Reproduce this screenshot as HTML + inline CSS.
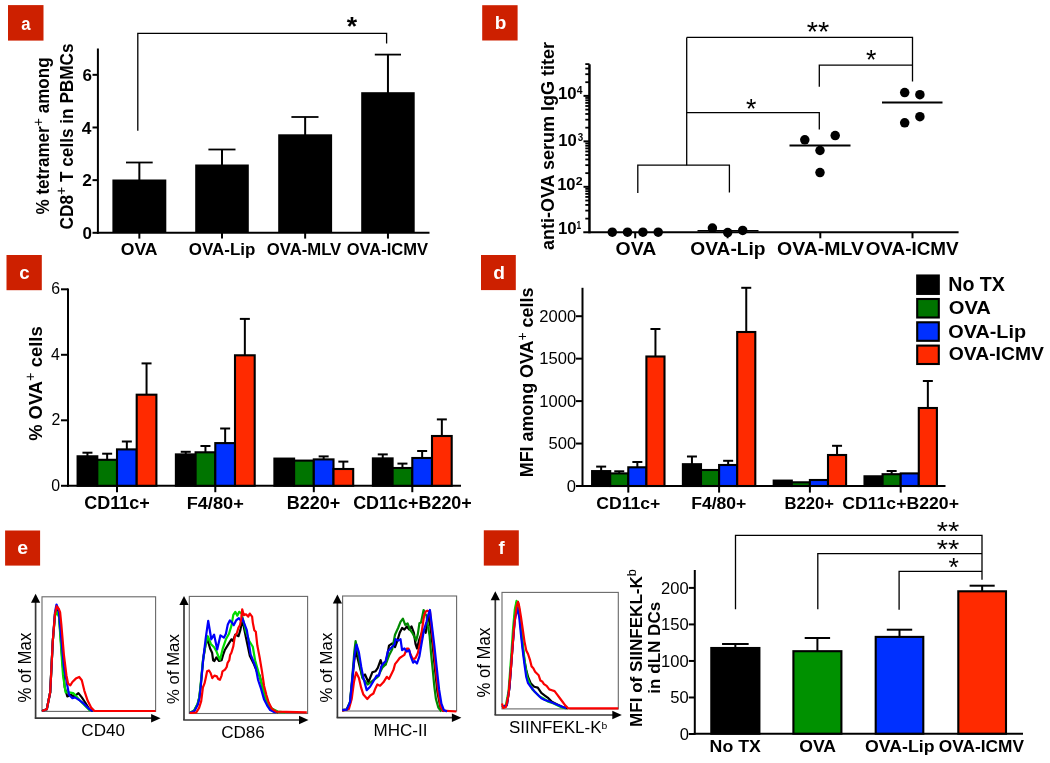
<!DOCTYPE html>
<html><head><meta charset="utf-8"><title>Figure</title>
<style>
html,body{margin:0;padding:0;background:#fff;width:1050px;height:763px;overflow:hidden}
svg{display:block;will-change:transform;font-family:"Liberation Sans",sans-serif}
</style></head><body>
<svg width="1050" height="763" viewBox="0 0 1050 763">
<rect width="1050" height="763" fill="#fff"/>
<rect x="8" y="5.1" width="35.5" height="35.5" fill="#cd2000"/>
<rect x="482.2" y="5.2" width="35.4" height="35.3" fill="#cd2000"/>
<rect x="6.5" y="255" width="35.3" height="35.2" fill="#cd2000"/>
<rect x="481" y="255" width="34.8" height="35.1" fill="#cd2000"/>
<rect x="5.1" y="530.5" width="35" height="35.1" fill="#cd2000"/>
<rect x="483.8" y="530.3" width="35" height="35.3" fill="#cd2000"/>
<line x1="97.9" y1="48.5" x2="97.9" y2="233.8" stroke="#000" stroke-width="2" stroke-linecap="butt"/>
<line x1="96.9" y1="232.8" x2="429.5" y2="232.8" stroke="#000" stroke-width="2" stroke-linecap="butt"/>
<line x1="92.5" y1="232.8" x2="98" y2="232.8" stroke="#000" stroke-width="2" stroke-linecap="butt"/>
<line x1="92.5" y1="180.14" x2="98" y2="180.14" stroke="#000" stroke-width="2" stroke-linecap="butt"/>
<line x1="92.5" y1="127.48" x2="98" y2="127.48" stroke="#000" stroke-width="2" stroke-linecap="butt"/>
<line x1="92.5" y1="74.82" x2="98" y2="74.82" stroke="#000" stroke-width="2" stroke-linecap="butt"/>
<line x1="139.35" y1="180.5" x2="139.35" y2="162.5" stroke="#000" stroke-width="2" stroke-linecap="butt"/>
<line x1="126" y1="162.5" x2="152.7" y2="162.5" stroke="#000" stroke-width="1.8" stroke-linecap="butt"/>
<rect x="112.4" y="179.5" width="53.9" height="53.3" fill="#000"/>
<line x1="139.35" y1="232.8" x2="139.35" y2="238.6" stroke="#000" stroke-width="2" stroke-linecap="butt"/>
<line x1="222" y1="165.5" x2="222" y2="149.5" stroke="#000" stroke-width="2" stroke-linecap="butt"/>
<line x1="208.4" y1="149.5" x2="235.5" y2="149.5" stroke="#000" stroke-width="1.8" stroke-linecap="butt"/>
<rect x="195.2" y="164.5" width="53.6" height="68.3" fill="#000"/>
<line x1="222" y1="232.8" x2="222" y2="238.6" stroke="#000" stroke-width="2" stroke-linecap="butt"/>
<line x1="305.15" y1="135.3" x2="305.15" y2="117" stroke="#000" stroke-width="2" stroke-linecap="butt"/>
<line x1="291.4" y1="117" x2="318.5" y2="117" stroke="#000" stroke-width="1.8" stroke-linecap="butt"/>
<rect x="278.2" y="134.3" width="53.9" height="98.5" fill="#000"/>
<line x1="305.15" y1="232.8" x2="305.15" y2="238.6" stroke="#000" stroke-width="2" stroke-linecap="butt"/>
<line x1="387.95" y1="93.2" x2="387.95" y2="54.6" stroke="#000" stroke-width="2" stroke-linecap="butt"/>
<line x1="374.8" y1="54.6" x2="401" y2="54.6" stroke="#000" stroke-width="1.8" stroke-linecap="butt"/>
<rect x="361.2" y="92.2" width="53.5" height="140.6" fill="#000"/>
<line x1="387.95" y1="232.8" x2="387.95" y2="238.6" stroke="#000" stroke-width="2" stroke-linecap="butt"/>
<polyline points="137.8,130.8 137.8,33.4 386.6,33.4 386.6,43.6" fill="none" stroke="#000" stroke-width="1.3" stroke-linejoin="miter"/>
<line x1="589.45" y1="64.3" x2="589.45" y2="233.3" stroke="#000" stroke-width="2.5" stroke-linecap="butt"/>
<line x1="583.3" y1="232.3" x2="958.6" y2="232.3" stroke="#000" stroke-width="2" stroke-linecap="butt"/>
<line x1="583.5" y1="186.83" x2="589.5" y2="186.83" stroke="#000" stroke-width="2" stroke-linecap="butt"/>
<line x1="583.5" y1="141.36" x2="589.5" y2="141.36" stroke="#000" stroke-width="2" stroke-linecap="butt"/>
<line x1="583.5" y1="95.89" x2="589.5" y2="95.89" stroke="#000" stroke-width="2" stroke-linecap="butt"/>
<line x1="585.3" y1="218.61" x2="589.5" y2="218.61" stroke="#000" stroke-width="1.8" stroke-linecap="butt"/>
<line x1="585.3" y1="210.61" x2="589.5" y2="210.61" stroke="#000" stroke-width="1.8" stroke-linecap="butt"/>
<line x1="585.3" y1="204.92" x2="589.5" y2="204.92" stroke="#000" stroke-width="1.8" stroke-linecap="butt"/>
<line x1="585.3" y1="200.52" x2="589.5" y2="200.52" stroke="#000" stroke-width="1.8" stroke-linecap="butt"/>
<line x1="585.3" y1="196.92" x2="589.5" y2="196.92" stroke="#000" stroke-width="1.8" stroke-linecap="butt"/>
<line x1="585.3" y1="193.87" x2="589.5" y2="193.87" stroke="#000" stroke-width="1.8" stroke-linecap="butt"/>
<line x1="585.3" y1="191.24" x2="589.5" y2="191.24" stroke="#000" stroke-width="1.8" stroke-linecap="butt"/>
<line x1="585.3" y1="188.91" x2="589.5" y2="188.91" stroke="#000" stroke-width="1.8" stroke-linecap="butt"/>
<line x1="585.3" y1="173.14" x2="589.5" y2="173.14" stroke="#000" stroke-width="1.8" stroke-linecap="butt"/>
<line x1="585.3" y1="165.14" x2="589.5" y2="165.14" stroke="#000" stroke-width="1.8" stroke-linecap="butt"/>
<line x1="585.3" y1="159.45" x2="589.5" y2="159.45" stroke="#000" stroke-width="1.8" stroke-linecap="butt"/>
<line x1="585.3" y1="155.05" x2="589.5" y2="155.05" stroke="#000" stroke-width="1.8" stroke-linecap="butt"/>
<line x1="585.3" y1="151.45" x2="589.5" y2="151.45" stroke="#000" stroke-width="1.8" stroke-linecap="butt"/>
<line x1="585.3" y1="148.4" x2="589.5" y2="148.4" stroke="#000" stroke-width="1.8" stroke-linecap="butt"/>
<line x1="585.3" y1="145.77" x2="589.5" y2="145.77" stroke="#000" stroke-width="1.8" stroke-linecap="butt"/>
<line x1="585.3" y1="143.44" x2="589.5" y2="143.44" stroke="#000" stroke-width="1.8" stroke-linecap="butt"/>
<line x1="585.3" y1="127.67" x2="589.5" y2="127.67" stroke="#000" stroke-width="1.8" stroke-linecap="butt"/>
<line x1="585.3" y1="119.67" x2="589.5" y2="119.67" stroke="#000" stroke-width="1.8" stroke-linecap="butt"/>
<line x1="585.3" y1="113.98" x2="589.5" y2="113.98" stroke="#000" stroke-width="1.8" stroke-linecap="butt"/>
<line x1="585.3" y1="109.58" x2="589.5" y2="109.58" stroke="#000" stroke-width="1.8" stroke-linecap="butt"/>
<line x1="585.3" y1="105.98" x2="589.5" y2="105.98" stroke="#000" stroke-width="1.8" stroke-linecap="butt"/>
<line x1="585.3" y1="102.93" x2="589.5" y2="102.93" stroke="#000" stroke-width="1.8" stroke-linecap="butt"/>
<line x1="585.3" y1="100.3" x2="589.5" y2="100.3" stroke="#000" stroke-width="1.8" stroke-linecap="butt"/>
<line x1="585.3" y1="97.97" x2="589.5" y2="97.97" stroke="#000" stroke-width="1.8" stroke-linecap="butt"/>
<line x1="585.3" y1="82.2" x2="589.5" y2="82.2" stroke="#000" stroke-width="1.8" stroke-linecap="butt"/>
<line x1="585.3" y1="74.2" x2="589.5" y2="74.2" stroke="#000" stroke-width="1.8" stroke-linecap="butt"/>
<line x1="585.3" y1="68.51" x2="589.5" y2="68.51" stroke="#000" stroke-width="1.8" stroke-linecap="butt"/>
<line x1="585.3" y1="64.11" x2="589.5" y2="64.11" stroke="#000" stroke-width="1.8" stroke-linecap="butt"/>
<line x1="635.2" y1="232.3" x2="635.2" y2="238.3" stroke="#000" stroke-width="2" stroke-linecap="butt"/>
<line x1="727.6" y1="232.3" x2="727.6" y2="238.3" stroke="#000" stroke-width="2" stroke-linecap="butt"/>
<line x1="820.3" y1="232.3" x2="820.3" y2="238.3" stroke="#000" stroke-width="2" stroke-linecap="butt"/>
<line x1="912.5" y1="232.3" x2="912.5" y2="238.3" stroke="#000" stroke-width="2" stroke-linecap="butt"/>
<line x1="697.5" y1="230.7" x2="758.5" y2="230.7" stroke="#000" stroke-width="1.5" stroke-linecap="butt"/>
<line x1="789.5" y1="145.5" x2="850.5" y2="145.5" stroke="#000" stroke-width="2" stroke-linecap="butt"/>
<line x1="882" y1="102.5" x2="942.5" y2="102.5" stroke="#000" stroke-width="2" stroke-linecap="butt"/>
<circle cx="612.3" cy="232.2" r="4.75" fill="#000"/>
<circle cx="627.5" cy="232.2" r="4.75" fill="#000"/>
<circle cx="642.9" cy="232.2" r="4.75" fill="#000"/>
<circle cx="658.2" cy="232.2" r="4.75" fill="#000"/>
<circle cx="712.4" cy="228.1" r="4.75" fill="#000"/>
<circle cx="727.7" cy="232.6" r="4.75" fill="#000"/>
<circle cx="742.7" cy="230.4" r="4.75" fill="#000"/>
<circle cx="804.8" cy="139.8" r="4.75" fill="#000"/>
<circle cx="835.2" cy="135.6" r="4.75" fill="#000"/>
<circle cx="820" cy="150.5" r="4.75" fill="#000"/>
<circle cx="820" cy="172.6" r="4.75" fill="#000"/>
<circle cx="904.7" cy="92.6" r="4.75" fill="#000"/>
<circle cx="919.9" cy="94.7" r="4.75" fill="#000"/>
<circle cx="904.7" cy="122.8" r="4.75" fill="#000"/>
<circle cx="919.9" cy="116.7" r="4.75" fill="#000"/>
<polyline points="637.8,193 637.8,165.2 729.4,165.2 729.4,192.4" fill="none" stroke="#000" stroke-width="1.3" stroke-linejoin="miter"/>
<polyline points="686.7,165.2 686.7,37.4" fill="none" stroke="#000" stroke-width="1.3" stroke-linejoin="miter"/>
<polyline points="686.7,112.7 819.3,112.7 819.3,129.5" fill="none" stroke="#000" stroke-width="1.3" stroke-linejoin="miter"/>
<polyline points="686.7,37.4 912.5,37.4 912.5,81.5" fill="none" stroke="#000" stroke-width="1.3" stroke-linejoin="miter"/>
<polyline points="819.3,86.8 819.3,65.2 912.5,65.2" fill="none" stroke="#000" stroke-width="1.3" stroke-linejoin="miter"/>
<line x1="68" y1="288.6" x2="68" y2="486.8" stroke="#000" stroke-width="2" stroke-linecap="butt"/>
<line x1="67" y1="485.8" x2="461" y2="485.8" stroke="#000" stroke-width="2" stroke-linecap="butt"/>
<line x1="61" y1="485.8" x2="68" y2="485.8" stroke="#000" stroke-width="2" stroke-linecap="butt"/>
<line x1="61" y1="420.3" x2="68" y2="420.3" stroke="#000" stroke-width="2" stroke-linecap="butt"/>
<line x1="61" y1="354.8" x2="68" y2="354.8" stroke="#000" stroke-width="2" stroke-linecap="butt"/>
<line x1="61" y1="289.3" x2="68" y2="289.3" stroke="#000" stroke-width="2" stroke-linecap="butt"/>
<line x1="117" y1="485.8" x2="117" y2="492.2" stroke="#000" stroke-width="2" stroke-linecap="butt"/>
<line x1="215.3" y1="485.8" x2="215.3" y2="492.2" stroke="#000" stroke-width="2" stroke-linecap="butt"/>
<line x1="313.8" y1="485.8" x2="313.8" y2="492.2" stroke="#000" stroke-width="2" stroke-linecap="butt"/>
<line x1="412.3" y1="485.8" x2="412.3" y2="492.2" stroke="#000" stroke-width="2" stroke-linecap="butt"/>
<line x1="87.45" y1="456.3" x2="87.45" y2="452.7" stroke="#000" stroke-width="2" stroke-linecap="butt"/>
<line x1="82.45" y1="452.7" x2="92.45" y2="452.7" stroke="#000" stroke-width="2" stroke-linecap="butt"/>
<line x1="107.15" y1="459.8" x2="107.15" y2="453.7" stroke="#000" stroke-width="2" stroke-linecap="butt"/>
<line x1="102.15" y1="453.7" x2="112.15" y2="453.7" stroke="#000" stroke-width="2" stroke-linecap="butt"/>
<line x1="126.85" y1="449.4" x2="126.85" y2="441.5" stroke="#000" stroke-width="2" stroke-linecap="butt"/>
<line x1="121.85" y1="441.5" x2="131.85" y2="441.5" stroke="#000" stroke-width="2" stroke-linecap="butt"/>
<line x1="146.55" y1="394.7" x2="146.55" y2="363.4" stroke="#000" stroke-width="2" stroke-linecap="butt"/>
<line x1="141.55" y1="363.4" x2="151.55" y2="363.4" stroke="#000" stroke-width="2" stroke-linecap="butt"/>
<rect x="77.6" y="456.3" width="19.7" height="29.5" fill="#000" stroke="#000" stroke-width="2.1"/>
<rect x="97.3" y="459.8" width="19.7" height="26" fill="#007400" stroke="#000" stroke-width="2.1"/>
<rect x="117" y="449.4" width="19.7" height="36.4" fill="#0030ff" stroke="#000" stroke-width="2.1"/>
<rect x="136.7" y="394.7" width="19.7" height="91.1" fill="#ff2a00" stroke="#000" stroke-width="2.1"/>
<line x1="185.75" y1="454.4" x2="185.75" y2="451.8" stroke="#000" stroke-width="2" stroke-linecap="butt"/>
<line x1="180.75" y1="451.8" x2="190.75" y2="451.8" stroke="#000" stroke-width="2" stroke-linecap="butt"/>
<line x1="205.45" y1="452.3" x2="205.45" y2="446" stroke="#000" stroke-width="2" stroke-linecap="butt"/>
<line x1="200.45" y1="446" x2="210.45" y2="446" stroke="#000" stroke-width="2" stroke-linecap="butt"/>
<line x1="225.15" y1="443.1" x2="225.15" y2="428.5" stroke="#000" stroke-width="2" stroke-linecap="butt"/>
<line x1="220.15" y1="428.5" x2="230.15" y2="428.5" stroke="#000" stroke-width="2" stroke-linecap="butt"/>
<line x1="244.85" y1="355.3" x2="244.85" y2="318.9" stroke="#000" stroke-width="2" stroke-linecap="butt"/>
<line x1="239.85" y1="318.9" x2="249.85" y2="318.9" stroke="#000" stroke-width="2" stroke-linecap="butt"/>
<rect x="175.9" y="454.4" width="19.7" height="31.4" fill="#000" stroke="#000" stroke-width="2.1"/>
<rect x="195.6" y="452.3" width="19.7" height="33.5" fill="#007400" stroke="#000" stroke-width="2.1"/>
<rect x="215.3" y="443.1" width="19.7" height="42.7" fill="#0030ff" stroke="#000" stroke-width="2.1"/>
<rect x="235" y="355.3" width="19.7" height="130.5" fill="#ff2a00" stroke="#000" stroke-width="2.1"/>
<line x1="323.65" y1="459.4" x2="323.65" y2="456.4" stroke="#000" stroke-width="2" stroke-linecap="butt"/>
<line x1="318.65" y1="456.4" x2="328.65" y2="456.4" stroke="#000" stroke-width="2" stroke-linecap="butt"/>
<line x1="343.35" y1="469" x2="343.35" y2="461.6" stroke="#000" stroke-width="2" stroke-linecap="butt"/>
<line x1="338.35" y1="461.6" x2="348.35" y2="461.6" stroke="#000" stroke-width="2" stroke-linecap="butt"/>
<rect x="274.4" y="458.6" width="19.7" height="27.2" fill="#000" stroke="#000" stroke-width="2.1"/>
<rect x="294.1" y="460.6" width="19.7" height="25.2" fill="#007400" stroke="#000" stroke-width="2.1"/>
<rect x="313.8" y="459.4" width="19.7" height="26.4" fill="#0030ff" stroke="#000" stroke-width="2.1"/>
<rect x="333.5" y="469" width="19.7" height="16.8" fill="#ff2a00" stroke="#000" stroke-width="2.1"/>
<line x1="382.75" y1="458.4" x2="382.75" y2="454.4" stroke="#000" stroke-width="2" stroke-linecap="butt"/>
<line x1="377.75" y1="454.4" x2="387.75" y2="454.4" stroke="#000" stroke-width="2" stroke-linecap="butt"/>
<line x1="402.45" y1="468" x2="402.45" y2="463.6" stroke="#000" stroke-width="2" stroke-linecap="butt"/>
<line x1="397.45" y1="463.6" x2="407.45" y2="463.6" stroke="#000" stroke-width="2" stroke-linecap="butt"/>
<line x1="422.15" y1="458" x2="422.15" y2="451" stroke="#000" stroke-width="2" stroke-linecap="butt"/>
<line x1="417.15" y1="451" x2="427.15" y2="451" stroke="#000" stroke-width="2" stroke-linecap="butt"/>
<line x1="441.85" y1="436" x2="441.85" y2="419.4" stroke="#000" stroke-width="2" stroke-linecap="butt"/>
<line x1="436.85" y1="419.4" x2="446.85" y2="419.4" stroke="#000" stroke-width="2" stroke-linecap="butt"/>
<rect x="372.9" y="458.4" width="19.7" height="27.4" fill="#000" stroke="#000" stroke-width="2.1"/>
<rect x="392.6" y="468" width="19.7" height="17.8" fill="#007400" stroke="#000" stroke-width="2.1"/>
<rect x="412.3" y="458" width="19.7" height="27.8" fill="#0030ff" stroke="#000" stroke-width="2.1"/>
<rect x="432" y="436" width="19.7" height="49.8" fill="#ff2a00" stroke="#000" stroke-width="2.1"/>
<line x1="582.5" y1="287.8" x2="582.5" y2="486.7" stroke="#000" stroke-width="2" stroke-linecap="butt"/>
<line x1="581.5" y1="486" x2="945.5" y2="486" stroke="#000" stroke-width="2" stroke-linecap="butt"/>
<line x1="576" y1="486" x2="582.5" y2="486" stroke="#000" stroke-width="2" stroke-linecap="butt"/>
<line x1="576" y1="443.55" x2="582.5" y2="443.55" stroke="#000" stroke-width="2" stroke-linecap="butt"/>
<line x1="576" y1="401.1" x2="582.5" y2="401.1" stroke="#000" stroke-width="2" stroke-linecap="butt"/>
<line x1="576" y1="358.65" x2="582.5" y2="358.65" stroke="#000" stroke-width="2" stroke-linecap="butt"/>
<line x1="576" y1="316.2" x2="582.5" y2="316.2" stroke="#000" stroke-width="2" stroke-linecap="butt"/>
<line x1="628.3" y1="486" x2="628.3" y2="492.6" stroke="#000" stroke-width="2" stroke-linecap="butt"/>
<line x1="719.1" y1="486" x2="719.1" y2="492.6" stroke="#000" stroke-width="2" stroke-linecap="butt"/>
<line x1="809.9" y1="486" x2="809.9" y2="492.6" stroke="#000" stroke-width="2" stroke-linecap="butt"/>
<line x1="900.7" y1="486" x2="900.7" y2="492.6" stroke="#000" stroke-width="2" stroke-linecap="butt"/>
<line x1="601.15" y1="471.1" x2="601.15" y2="466.6" stroke="#000" stroke-width="2" stroke-linecap="butt"/>
<line x1="596.15" y1="466.6" x2="606.15" y2="466.6" stroke="#000" stroke-width="2" stroke-linecap="butt"/>
<line x1="619.25" y1="473.4" x2="619.25" y2="471.3" stroke="#000" stroke-width="2" stroke-linecap="butt"/>
<line x1="614.25" y1="471.3" x2="624.25" y2="471.3" stroke="#000" stroke-width="2" stroke-linecap="butt"/>
<line x1="637.35" y1="467.3" x2="637.35" y2="462" stroke="#000" stroke-width="2" stroke-linecap="butt"/>
<line x1="632.35" y1="462" x2="642.35" y2="462" stroke="#000" stroke-width="2" stroke-linecap="butt"/>
<line x1="655.45" y1="356.5" x2="655.45" y2="329" stroke="#000" stroke-width="2" stroke-linecap="butt"/>
<line x1="650.45" y1="329" x2="660.45" y2="329" stroke="#000" stroke-width="2" stroke-linecap="butt"/>
<rect x="592.1" y="471.1" width="18.1" height="14.9" fill="#000" stroke="#000" stroke-width="2.1"/>
<rect x="610.2" y="473.4" width="18.1" height="12.6" fill="#007400" stroke="#000" stroke-width="2.1"/>
<rect x="628.3" y="467.3" width="18.1" height="18.7" fill="#0030ff" stroke="#000" stroke-width="2.1"/>
<rect x="646.4" y="356.5" width="18.1" height="129.5" fill="#ff2a00" stroke="#000" stroke-width="2.1"/>
<line x1="691.95" y1="464.2" x2="691.95" y2="456.5" stroke="#000" stroke-width="2" stroke-linecap="butt"/>
<line x1="686.95" y1="456.5" x2="696.95" y2="456.5" stroke="#000" stroke-width="2" stroke-linecap="butt"/>
<line x1="728.15" y1="465" x2="728.15" y2="460.8" stroke="#000" stroke-width="2" stroke-linecap="butt"/>
<line x1="723.15" y1="460.8" x2="733.15" y2="460.8" stroke="#000" stroke-width="2" stroke-linecap="butt"/>
<line x1="746.25" y1="332" x2="746.25" y2="287.8" stroke="#000" stroke-width="2" stroke-linecap="butt"/>
<line x1="741.25" y1="287.8" x2="751.25" y2="287.8" stroke="#000" stroke-width="2" stroke-linecap="butt"/>
<rect x="682.9" y="464.2" width="18.1" height="21.8" fill="#000" stroke="#000" stroke-width="2.1"/>
<rect x="701" y="470" width="18.1" height="16" fill="#007400" stroke="#000" stroke-width="2.1"/>
<rect x="719.1" y="465" width="18.1" height="21" fill="#0030ff" stroke="#000" stroke-width="2.1"/>
<rect x="737.2" y="332" width="18.1" height="154" fill="#ff2a00" stroke="#000" stroke-width="2.1"/>
<line x1="837.05" y1="455" x2="837.05" y2="445.8" stroke="#000" stroke-width="2" stroke-linecap="butt"/>
<line x1="832.05" y1="445.8" x2="842.05" y2="445.8" stroke="#000" stroke-width="2" stroke-linecap="butt"/>
<rect x="773.7" y="480.6" width="18.1" height="5.4" fill="#000" stroke="#000" stroke-width="2.1"/>
<rect x="791.8" y="482.3" width="18.1" height="3.7" fill="#007400" stroke="#000" stroke-width="2.1"/>
<rect x="809.9" y="480" width="18.1" height="6" fill="#0030ff" stroke="#000" stroke-width="2.1"/>
<rect x="828" y="455" width="18.1" height="31" fill="#ff2a00" stroke="#000" stroke-width="2.1"/>
<line x1="891.65" y1="474.2" x2="891.65" y2="471" stroke="#000" stroke-width="2" stroke-linecap="butt"/>
<line x1="886.65" y1="471" x2="896.65" y2="471" stroke="#000" stroke-width="2" stroke-linecap="butt"/>
<line x1="927.85" y1="408" x2="927.85" y2="381" stroke="#000" stroke-width="2" stroke-linecap="butt"/>
<line x1="922.85" y1="381" x2="932.85" y2="381" stroke="#000" stroke-width="2" stroke-linecap="butt"/>
<rect x="864.5" y="476.3" width="18.1" height="9.7" fill="#000" stroke="#000" stroke-width="2.1"/>
<rect x="882.6" y="474.2" width="18.1" height="11.8" fill="#007400" stroke="#000" stroke-width="2.1"/>
<rect x="900.7" y="473.4" width="18.1" height="12.6" fill="#0030ff" stroke="#000" stroke-width="2.1"/>
<rect x="918.8" y="408" width="18.1" height="78" fill="#ff2a00" stroke="#000" stroke-width="2.1"/>
<rect x="917.2" y="275.5" width="21.6" height="18.4" fill="#000" stroke="#000" stroke-width="2.1"/>
<rect x="917.2" y="299" width="21.6" height="18.5" fill="#007400" stroke="#000" stroke-width="2.1"/>
<rect x="917.2" y="322.3" width="21.6" height="18.5" fill="#0030ff" stroke="#000" stroke-width="2.1"/>
<rect x="917.2" y="345.6" width="21.6" height="18.4" fill="#ff2a00" stroke="#000" stroke-width="2.1"/>
<rect x="42" y="596.8" width="113.6" height="114.6" fill="none" stroke="#686868" stroke-width="1.1"/>
<polyline points="42,711 46.8,709.3 50.2,692.3 52.8,641 55,614 57,610.5 59,615 62.2,658.2 64.7,687.2 67.3,696.5 70.7,694.8 74.1,696.5 78.4,693.1 81.8,697.4 85.2,702.5 89.4,709.3 92.8,711" fill="none" stroke="#000" stroke-width="2.2" stroke-linejoin="round"/>
<polyline points="42,711 46.8,709.3 50.2,692.3 52.8,641 55,616 57,612 59,617 63,675.2 65.6,692.3 69,692.3 73.2,693.1 75.8,695.7 80.9,701.6 86,706.8 90.3,711" fill="none" stroke="#00dc00" stroke-width="2.2" stroke-linejoin="round"/>
<polyline points="42,711 46.8,709.3 50.2,692.3 52.8,641 55,612 56.5,604.5 58.7,610.5 63.9,666.7 66.4,680.3 69,694.8 72.4,698.2 74.9,697.4 79.2,700 84.3,704.2 89.4,709.3 92.8,711" fill="none" stroke="#0000fa" stroke-width="2.2" stroke-linejoin="round"/>
<polyline points="42,711 46.8,709.3 50.2,692.3 52.8,641 55,613.9 56.7,606.2 58.7,608.7 60.1,612.2 61.3,624 63.9,654.8 66.4,675.2 68.1,683.7 70.3,685.4 72.4,682 75.8,678.6 79.2,677 81.8,680.3 84.3,690.6 87.7,700.8 91.1,707.6 94.5,711 155.6,711" fill="none" stroke="#fa0000" stroke-width="2.2" stroke-linejoin="round"/>
<line x1="35.6" y1="718.6" x2="35.6" y2="599.7" stroke="#383838" stroke-width="1.7" stroke-linecap="butt"/>
<path d="M31 602.7 L35.6 593.7 L40.2 602.7 Z" fill="#000"/>
<line x1="34.8" y1="718.2" x2="154.6" y2="718.2" stroke="#383838" stroke-width="1.7" stroke-linecap="butt"/>
<path d="M151.1 714 L160.6 718.2 L151.1 722.4 Z" fill="#000"/>
<rect x="189.3" y="596.4" width="118.3" height="117.1" fill="none" stroke="#686868" stroke-width="1.1"/>
<polyline points="189.7,713 194.2,710.7 197.6,704.2 199.4,697.3 200.7,685.4 202,672 203.2,659 205.5,645 207.4,639.3 210.2,648.7 212.1,652.7 213.1,660.2 214.4,661 216.4,657.4 219.1,661 221.6,660.2 223.3,654.3 224.7,650.3 227.5,645.6 231.4,639.3 233,640.9 235.3,634.6 238.5,636.2 240.4,629.9 242.3,619.6 246,637.7 249.8,655.8 253.6,663.4 256.6,670.9 259.6,675.4 262.6,687.5 265.6,699.6 268.7,705.6 273.2,710.1 278,712.4" fill="none" stroke="#000" stroke-width="2.2" stroke-linejoin="round"/>
<polyline points="189.7,713 194,710.5 197.5,704 199.3,697 200.6,685 201.9,671 203,659.7 205.5,645 207.8,636.2 210.9,644 214.1,647.2 216.4,651.1 218.2,656 220,659.7 222.7,648.7 225.9,639.3 229,633.8 231.4,625.9 233.3,614.9 235.3,611.8 237.3,615.7 239.2,611.8 241.6,613.4 242.3,616.6 246,631.7 249.1,640.7 252.8,646.8 255.1,660.3 258.1,670.9 261.1,681.5 264.1,693.5 267.2,702.6 271.7,708.6 277.7,711.6 285,712.4" fill="none" stroke="#00dc00" stroke-width="2.2" stroke-linejoin="round"/>
<polyline points="189.7,713 194.4,710.9 197.8,704.5 199.5,697.7 200.8,685.8 202,672.1 203.3,658.5 205.8,637.7 208.2,620.8 211.3,639.3 214.1,634.6 217.2,649.5 220.4,635.4 223.9,637.7 225.9,633.8 227.8,624.4 229.8,620.4 232.2,622.8 233.7,625.2 236.1,620.4 238.9,618.1 241.2,621.2 242.3,618.1 244.5,624.1 246.8,630.2 248.3,639.2 250.6,654.3 253.6,661.8 255.8,667.9 258.1,680 261.1,689 264.1,699.6 267.2,705.6 270.2,710.1 273.2,711.6 276,712.4" fill="none" stroke="#0000fa" stroke-width="2.2" stroke-linejoin="round"/>
<polyline points="189.7,713 196.1,712.6 199.1,707.9 201.2,701.1 202.9,687.5 204.6,683.2 205.9,677.3 207.1,671.3 208.9,670.4 210.6,673 212.3,678.1 214.4,675.6 216.9,676.4 218.2,679 219.9,679.8 221.6,675.6 222.5,671.3 225,669.6 226.7,667 227.6,662.8 229.3,660.2 230.1,655.1 231.4,652.7 233.3,646.4 234.9,636.2 236.9,633 238.5,627.5 240,625.2 241.2,618.9 242.2,609.4 243.8,615.1 246,614.3 248.3,616.6 249.8,613.6 252.1,616.6 252.8,622.6 254.3,630.2 255.8,631.7 257.3,645.3 259.6,657.3 261.9,670.9 264.1,686 266.4,695 268.7,702.6 271.7,708.6 276.2,711.6 306.8,712.4" fill="none" stroke="#fa0000" stroke-width="2.2" stroke-linejoin="round"/>
<line x1="184" y1="720" x2="184" y2="601.9" stroke="#383838" stroke-width="1.7" stroke-linecap="butt"/>
<path d="M179.4 604.9 L184 595.9 L188.6 604.9 Z" fill="#000"/>
<line x1="183.2" y1="720" x2="302.5" y2="720" stroke="#383838" stroke-width="1.7" stroke-linecap="butt"/>
<path d="M299 715.8 L308.5 720 L299 724.2 Z" fill="#000"/>
<rect x="342.6" y="596" width="114" height="115" fill="none" stroke="#686868" stroke-width="1.1"/>
<polyline points="342.2,710.2 346.7,709.6 350,702.4 352.2,681 354.3,660 355.6,650 356.7,654.5 358.9,663.4 362.3,676.8 365,674.5 368.4,682.3 372.3,672.3 375.6,671.2 377.8,667.8 380.6,660.1 382.3,665.6 385.6,664.5 389,645.6 392.3,643.4 395,647 397.4,640.6 399.7,632.8 402.1,628 404.4,629.6 406.8,626.5 409.2,629.6 411.5,626.5 413.9,632.8 415.5,643.8 417,648.5 419.4,639.1 421.8,632.8 424.1,629.6 425.7,632.8 427.3,621.8 428.8,615.5 430.4,626.5 432.8,647 435.1,670.5 437.5,692.6 440.6,708.3 443.8,711.5" fill="none" stroke="#000" stroke-width="2.2" stroke-linejoin="round"/>
<polyline points="342.2,710.2 346.7,709.6 350,702 352.2,678 354.3,652 355.6,641.1 358.5,655 362.3,677.9 367.8,684.5 373.4,680.1 377.8,676.8 382.3,667.8 385.6,664.5 389,655.6 392.3,648.9 395,634.7 398.1,628 400.5,621.8 402.9,618.6 405.2,624.9 407.6,623.3 410,629.6 412.3,632.8 414.7,637.5 416.2,640.6 417.8,634.3 419.4,623.3 421,622.5 422.5,615.5 423.6,610 425.2,613.9 426.5,615.5 428,626.5 429.6,635.9 431.2,654.8 432.8,670.5 434.3,686.3 435.9,698.9 438.3,707.5 441.4,711.5" fill="none" stroke="#008a00" stroke-width="2.2" stroke-linejoin="round"/>
<polyline points="342.2,710.7 348.9,709 351.7,699 353.9,682.3 356.1,672.3 358.9,677.9 361.2,687.9 363.4,694.6 367.3,699 370.1,695.7 373.4,693.5 375.6,687.9 377.3,684.5 380.1,685.7 383.4,682.3 386.8,676.8 389,679 391.2,674.5 393.4,670.1 395,664.2 397.4,661.1 399.7,658 402.1,656.4 404.4,654.8 406.8,648.5 408.4,648.5 410.7,654.8 413.1,659.5 415.5,658 417.8,653.2 420.2,642.2 422.5,626.5 424.1,615.5 425.7,611.5 427.3,610.7 428.8,611.5 429.9,610.7 431.5,626.5 433.6,647 435.9,670.5 438.3,692.6 440.6,706.7 443,710.7 456.4,711.5" fill="none" stroke="#fa0000" stroke-width="2.2" stroke-linejoin="round"/>
<polyline points="342.2,710.2 346.7,709.6 350,702.4 352.2,680.1 354.5,655.6 356.5,644.5 358.9,652.3 361.2,666.7 363.4,677.9 366.7,690.1 370.1,686.8 373.4,681.2 376.7,675.6 379,675.6 381.2,666.7 383.4,663.4 385.6,661.2 387.9,651.2 391.2,647.8 394.5,644.5 395.5,639.1 398.1,640.6 400.5,639.1 402.1,650.1 404.4,648.5 406.8,651.7 409.2,650.1 410.7,656.4 413.1,662.7 414.7,661.1 417,663.5 419.4,656.4 421.8,642.2 424.1,629.6 426.5,621.8 428,615.5 429.9,610 432,626.5 434.3,645.4 436.7,667.4 439.1,689.4 441.4,703.6 443.8,709.9 447,711.5" fill="none" stroke="#0000fa" stroke-width="2.2" stroke-linejoin="round"/>
<line x1="337.4" y1="717.7" x2="337.4" y2="600.5" stroke="#383838" stroke-width="1.7" stroke-linecap="butt"/>
<path d="M332.8 603.5 L337.4 594.5 L342 603.5 Z" fill="#000"/>
<line x1="336.6" y1="717.7" x2="455.4" y2="717.7" stroke="#383838" stroke-width="1.7" stroke-linecap="butt"/>
<path d="M451.9 713.5 L461.4 717.7 L451.9 721.9 Z" fill="#000"/>
<rect x="502" y="592.4" width="116.3" height="116.5" fill="none" stroke="#686868" stroke-width="1.1"/>
<polyline points="502.03,707.08 506.81,705.31 509.46,687.62 512.12,652.23 514.77,616.85 516.54,602.69 517.95,601.81 519.19,609.77 520.96,629.23 522.73,646.92 524.5,661.08 526.27,669.93 528.04,677 530.69,683.2 534.23,686.73 537.77,687.62 541.31,692.93 544.85,695.58 548.39,698.23 551.92,701.77 557.23,704.43 562.54,707.08 567.85,708.32" fill="none" stroke="#000" stroke-width="2.2" stroke-linejoin="round"/>
<polyline points="502.03,707.08 505.92,705.31 508.58,691.16 511.23,655.77 513,629.23 514.77,609.77 516.54,600.92 518.31,604.46 520.08,616.85 521.85,634.54 523.62,652.23 525.39,666.39 527.15,677 529.81,684.08 532.46,689.39 536,692.93 539.54,696.46 543.08,698.23 548.39,701.77 553.69,703.54 560.77,707.08 566.08,708.32" fill="none" stroke="#00dc00" stroke-width="2.2" stroke-linejoin="round"/>
<polyline points="502.03,707.08 506.81,705.31 509.46,687.62 512.12,652.23 514.77,620.39 517.42,608 519.19,616.85 520.96,634.54 522.73,650.46 524.5,664.62 526.27,677 528.04,683.2 530.69,686.73 534.23,691.16 537.77,694.7 541.31,698.23 544.85,700 550.16,701.77 555.46,703.9 560.77,706.2 566.08,708.32" fill="none" stroke="#0000fa" stroke-width="2.2" stroke-linejoin="round"/>
<polyline points="502.03,703.54 503.27,707.97 505.92,707.08 508.58,694.7 511.23,664.62 513.89,629.23 516.54,606.23 517.95,601.81 519.19,606.23 520.96,616.85 522.73,629.23 524.5,641.62 526.27,650.46 528.04,654 529.81,659.31 531.58,666.39 533.35,668.16 535.12,671.69 536.89,673.46 538.66,675.23 540.42,680.54 542.19,681.43 543.96,684.08 546.62,685.85 549.27,689.39 551.92,690.27 554.58,691.16 557.23,694.7 559.89,698.23 562.54,701.77 565.19,705.31 567.85,707.97 570.5,708.32 618.27,708.32" fill="none" stroke="#fa0000" stroke-width="2.2" stroke-linejoin="round"/>
<line x1="495.3" y1="715" x2="495.3" y2="597.2" stroke="#383838" stroke-width="1.7" stroke-linecap="butt"/>
<path d="M490.7 600.2 L495.3 591.2 L499.9 600.2 Z" fill="#000"/>
<line x1="494.5" y1="715" x2="615.8" y2="715" stroke="#383838" stroke-width="1.7" stroke-linecap="butt"/>
<path d="M612.3 710.8 L621.8 715 L612.3 719.2 Z" fill="#000"/>
<line x1="694.8" y1="570" x2="694.8" y2="734.7" stroke="#000" stroke-width="2" stroke-linecap="butt"/>
<line x1="693.8" y1="733.7" x2="1023" y2="733.7" stroke="#000" stroke-width="2" stroke-linecap="butt"/>
<line x1="688.8" y1="734" x2="694.8" y2="734" stroke="#000" stroke-width="2" stroke-linecap="butt"/>
<line x1="688.8" y1="697.48" x2="694.8" y2="697.48" stroke="#000" stroke-width="2" stroke-linecap="butt"/>
<line x1="688.8" y1="660.95" x2="694.8" y2="660.95" stroke="#000" stroke-width="2" stroke-linecap="butt"/>
<line x1="688.8" y1="624.42" x2="694.8" y2="624.42" stroke="#000" stroke-width="2" stroke-linecap="butt"/>
<line x1="688.8" y1="587.9" x2="694.8" y2="587.9" stroke="#000" stroke-width="2" stroke-linecap="butt"/>
<line x1="735.35" y1="648" x2="735.35" y2="644" stroke="#000" stroke-width="2" stroke-linecap="butt"/>
<line x1="722.05" y1="644" x2="748.65" y2="644" stroke="#000" stroke-width="2" stroke-linecap="butt"/>
<rect x="711.3" y="648" width="48.1" height="85.7" fill="#000" stroke="#000" stroke-width="2.1"/>
<line x1="817.4" y1="651.2" x2="817.4" y2="638" stroke="#000" stroke-width="2" stroke-linecap="butt"/>
<line x1="804.7" y1="638" x2="830.1" y2="638" stroke="#000" stroke-width="2" stroke-linecap="butt"/>
<rect x="793.4" y="651.2" width="48" height="82.5" fill="#009100" stroke="#000" stroke-width="2.1"/>
<line x1="899.5" y1="636.9" x2="899.5" y2="629.7" stroke="#000" stroke-width="2" stroke-linecap="butt"/>
<line x1="886.8" y1="629.7" x2="912.2" y2="629.7" stroke="#000" stroke-width="2" stroke-linecap="butt"/>
<rect x="875.7" y="636.9" width="47.6" height="96.8" fill="#0030ff" stroke="#000" stroke-width="2.1"/>
<line x1="982.15" y1="591.3" x2="982.15" y2="585.7" stroke="#000" stroke-width="2" stroke-linecap="butt"/>
<line x1="969.6" y1="585.7" x2="994.7" y2="585.7" stroke="#000" stroke-width="2" stroke-linecap="butt"/>
<rect x="958.3" y="591.3" width="47.7" height="142.4" fill="#ff2a00" stroke="#000" stroke-width="2.1"/>
<polyline points="735.5,609.3 735.5,535.3 982,535.3 982,579.7" fill="none" stroke="#000" stroke-width="1.3" stroke-linejoin="miter"/>
<polyline points="817.8,609.3 817.8,553.7 982,553.7" fill="none" stroke="#000" stroke-width="1.3" stroke-linejoin="miter"/>
<polyline points="899.1,609.7 899.1,571.4 982,571.4" fill="none" stroke="#000" stroke-width="1.3" stroke-linejoin="miter"/>
<text transform="translate(21.161 29.557) scale(0.8780 0.9714)" font-size="19" font-weight="bold" fill="#fff">a</text>
<text transform="translate(494.650 29.263) scale(1.0000 0.9500)" font-size="19" font-weight="bold" fill="#fff">b</text>
<text transform="translate(19.262 279.167) scale(0.9838 0.9333)" font-size="19" font-weight="bold" fill="#fff">c</text>
<text transform="translate(493.342 278.961) scale(1.0105 0.9571)" font-size="19" font-weight="bold" fill="#fff">d</text>
<text transform="translate(17.230 554.460) scale(1.0270 0.9619)" font-size="19" font-weight="bold" fill="#fff">e</text>
<text transform="translate(498.554 554.400) scale(0.9833 0.9745)" font-size="19" font-weight="bold" fill="#fff">f</text>
<text transform="translate(82.450 80.650) scale(1.0000 1.0000)" font-size="17" font-weight="bold" fill="#000">6</text>
<text transform="translate(81.753 133.600) scale(1.0213 1.0213)" font-size="17" font-weight="bold" fill="#000">4</text>
<text transform="translate(82.264 186.300) scale(1.0213 1.0213)" font-size="17" font-weight="bold" fill="#000">2</text>
<text transform="translate(82.450 238.650) scale(1.0000 1.0000)" font-size="17" font-weight="bold" fill="#000">0</text>
<text transform="translate(120.699 254.949) scale(1.0677 1.0043)" font-size="16.5" font-weight="bold" fill="#000">OVA</text>
<text transform="translate(188.829 254.800) scale(1.0277 0.9833)" font-size="16.5" font-weight="bold" fill="#000">OVA-Lip</text>
<text transform="translate(266.740 254.745) scale(1.0131 1.0213)" font-size="16.5" font-weight="bold" fill="#000">OVA-MLV</text>
<text transform="translate(346.648 254.745) scale(1.0031 1.0213)" font-size="16.5" font-weight="bold" fill="#000">OVA-ICMV</text>
<text transform="translate(49.300 214.502) rotate(-90) scale(1.0042 1.0383)" font-size="17" font-weight="bold" fill="#000">% tetramer<tspan class="sup" font-size="14" font-weight="normal" dy="-6.3">+</tspan><tspan dy="6.3"> among</tspan></text>
<text transform="translate(72.700 229.459) rotate(-90) scale(1.0126 1.0367)" font-size="17" font-weight="bold" fill="#000">CD8<tspan class="sup" font-size="14" font-weight="normal" dy="-6.3">+</tspan><tspan dy="6.3"> T cells in PBMCs</tspan></text>
<text transform="translate(346.722 35.114) scale(1.1111 1.0857)" font-size="24" font-weight="bold" fill="#000">*</text>
<text transform="translate(558.014 233.652) scale(0.9855 0.9917)" font-size="17" font-weight="bold" fill="#000">10</text>
<text transform="translate(576.530 228.500) scale(0.7600 1.0133)" font-size="11" font-weight="bold" fill="#000">1</text>
<text transform="translate(557.126 189.846) scale(0.9739 1.0167)" font-size="17" font-weight="bold" fill="#000">10</text>
<text transform="translate(575.638 184.700) scale(1.1238 1.0065)" font-size="11" font-weight="bold" fill="#000">2</text>
<text transform="translate(558.320 146.146) scale(0.9797 1.0167)" font-size="17" font-weight="bold" fill="#000">10</text>
<text transform="translate(577.777 141.047) scale(0.8909 1.0125)" font-size="11" font-weight="bold" fill="#000">3</text>
<text transform="translate(558.014 98.652) scale(0.9855 0.9917)" font-size="17" font-weight="bold" fill="#000">10</text>
<text transform="translate(576.765 93.700) scale(0.9391 1.0133)" font-size="11" font-weight="bold" fill="#000">4</text>
<text transform="translate(615.532 254.761) scale(1.0234 0.9556)" font-size="19" font-weight="bold" fill="#000">OVA</text>
<text transform="translate(690.343 255.000) scale(1.0096 0.9382)" font-size="19" font-weight="bold" fill="#000">OVA-Lip</text>
<text transform="translate(777.031 254.954) scale(1.0257 0.9852)" font-size="19" font-weight="bold" fill="#000">OVA-MLV</text>
<text transform="translate(865.654 254.954) scale(0.9941 0.9852)" font-size="19" font-weight="bold" fill="#000">OVA-ICMV</text>
<text transform="translate(554.300 250.100) rotate(-90) scale(1.0002 1.0000)" font-size="18" font-weight="bold" fill="#000">anti-OVA serum IgG titer</text>
<text transform="translate(806.642 40.600) scale(1.3169 1.2400)" font-size="22" font-weight="normal" fill="#000">**</text>
<text transform="translate(865.894 69.400) scale(1.2129 1.2400)" font-size="22" font-weight="normal" fill="#000">*</text>
<text transform="translate(745.894 118.100) scale(1.2129 1.2533)" font-size="22" font-weight="normal" fill="#000">*</text>
<text transform="translate(51.214 294.400) scale(1.0233 1.0233)" font-size="15.5" font-weight="normal" fill="#000">6</text>
<text transform="translate(50.958 359.950) scale(1.0233 1.0233)" font-size="15.5" font-weight="normal" fill="#000">4</text>
<text transform="translate(51.470 425.300) scale(1.0233 1.0233)" font-size="15.5" font-weight="normal" fill="#000">2</text>
<text transform="translate(51.214 490.900) scale(1.0233 1.0233)" font-size="15.5" font-weight="normal" fill="#000">0</text>
<text transform="translate(41.900 440.825) rotate(-90) scale(1.0506 1.0667)" font-size="17.5" font-weight="bold" fill="#000">% OVA<tspan class="sup" font-size="14" font-weight="normal" dy="-6.3">+</tspan><tspan dy="6.3"> cells</tspan></text>
<text transform="translate(84.250 509.349) scale(1.0000 1.0039)" font-size="18" font-weight="bold" fill="#000">CD11c+</text>
<text transform="translate(186.636 509.358) scale(1.0110 0.9660)" font-size="18" font-weight="bold" fill="#000">F4/80+</text>
<text transform="translate(286.650 509.349) scale(1.0000 1.0039)" font-size="18" font-weight="bold" fill="#000">B220+</text>
<text transform="translate(353.153 509.349) scale(0.9966 1.0039)" font-size="18" font-weight="bold" fill="#000">CD11c+B220+</text>
<text transform="translate(539.283 321.846) scale(1.0174 1.0174)" font-size="16.3" font-weight="normal" fill="#000">2000</text>
<text transform="translate(539.283 364.296) scale(1.0174 1.0174)" font-size="16.3" font-weight="normal" fill="#000">1500</text>
<text transform="translate(539.283 406.746) scale(1.0174 1.0174)" font-size="16.3" font-weight="normal" fill="#000">1000</text>
<text transform="translate(548.439 449.196) scale(1.0174 1.0174)" font-size="16.3" font-weight="normal" fill="#000">500</text>
<text transform="translate(566.752 491.646) scale(1.0174 1.0174)" font-size="16.3" font-weight="normal" fill="#000">0</text>
<text transform="translate(533.400 477.242) rotate(-90) scale(0.9937 1.0308)" font-size="18" font-weight="bold" fill="#000">MFI among OVA<tspan class="sup" font-size="14" font-weight="normal" dy="-6.3">+</tspan><tspan dy="6.3"> cells</tspan></text>
<text transform="translate(596.245 509.252) scale(1.0072 0.9920)" font-size="17.5" font-weight="bold" fill="#000">CD11c+</text>
<text transform="translate(691.143 509.262) scale(1.0057 0.9538)" font-size="17.5" font-weight="bold" fill="#000">F4/80+</text>
<text transform="translate(784.510 509.252) scale(0.9520 0.9920)" font-size="17.5" font-weight="bold" fill="#000">B220+</text>
<text transform="translate(842.142 509.252) scale(1.0101 0.9920)" font-size="17.5" font-weight="bold" fill="#000">CD11c+B220+</text>
<text transform="translate(948.207 290.742) scale(1.0347 1.0340)" font-size="19" font-weight="bold" fill="#000">No TX</text>
<text transform="translate(948.703 313.946) scale(1.0623 1.0148)" font-size="19" font-weight="bold" fill="#000">OVA</text>
<text transform="translate(948.217 337.500) scale(1.0438 1.0036)" font-size="19" font-weight="bold" fill="#000">OVA-Lip</text>
<text transform="translate(948.737 359.946) scale(1.0178 1.0148)" font-size="19" font-weight="bold" fill="#000">OVA-ICMV</text>
<text transform="translate(31.040 702.594) rotate(-90) scale(0.9871 1.0400)" font-size="17" font-weight="normal" fill="#000">% of Max</text>
<text transform="translate(178.548 703.993) rotate(-90) scale(0.9857 1.0080)" font-size="17" font-weight="normal" fill="#000">% of Max</text>
<text transform="translate(331.844 702.594) rotate(-90) scale(0.9871 1.0240)" font-size="17" font-weight="normal" fill="#000">% of Max</text>
<text transform="translate(81.346 735.748) scale(1.0048 1.0083)" font-size="17" font-weight="normal" fill="#000">CD40</text>
<text transform="translate(221.146 737.744) scale(1.0048 1.0250)" font-size="17" font-weight="normal" fill="#000">CD86</text>
<text transform="translate(373.496 735.754) scale(1.0030 0.9833)" font-size="17" font-weight="normal" fill="#000">MHC-II</text>
<text transform="translate(490.432 697.594) rotate(-90) scale(0.9871 1.0720)" font-size="17" font-weight="normal" fill="#000">% of Max</text>
<text transform="translate(508.950 733.365) scale(0.9995 0.9412)" font-size="17" font-weight="normal" fill="#000">SIINFEKL-K<tspan font-size="10.4" dy="-4.9">b</tspan></text>
<text transform="translate(661.085 593.549) scale(1.0043 1.0043)" font-size="16.5" font-weight="normal" fill="#000">200</text>
<text transform="translate(661.085 630.074) scale(1.0043 1.0043)" font-size="16.5" font-weight="normal" fill="#000">150</text>
<text transform="translate(661.085 666.599) scale(1.0043 1.0043)" font-size="16.5" font-weight="normal" fill="#000">100</text>
<text transform="translate(670.374 703.124) scale(1.0043 1.0043)" font-size="16.5" font-weight="normal" fill="#000">50</text>
<text transform="translate(679.664 739.649) scale(1.0043 1.0043)" font-size="16.5" font-weight="normal" fill="#000">0</text>
<text transform="translate(641.500 726.956) rotate(-90) scale(1.0050 0.9796)" font-size="17" font-weight="bold" fill="#000">MFI of SIINFEKL-K<tspan class="sup" font-size="12.6" font-weight="normal" dy="-6">b</tspan></text>
<text transform="translate(659.664 693.654) rotate(-90) scale(1.0034 0.9440)" font-size="17" font-weight="bold" fill="#000">in dLN DCs</text>
<text transform="translate(709.597 752.046) scale(1.0421 1.0167)" font-size="17" font-weight="bold" fill="#000">No TX</text>
<text transform="translate(799.223 752.046) scale(1.0365 1.0167)" font-size="17" font-weight="bold" fill="#000">OVA</text>
<text transform="translate(865.018 752.300) scale(1.0421 0.9959)" font-size="17" font-weight="bold" fill="#000">OVA-Lip</text>
<text transform="translate(938.837 752.046) scale(1.0175 1.0167)" font-size="17" font-weight="bold" fill="#000">OVA-ICMV</text>
<text transform="translate(936.642 539.700) scale(1.3169 1.1600)" font-size="22" font-weight="normal" fill="#000">**</text>
<text transform="translate(936.642 558.400) scale(1.3169 1.1600)" font-size="22" font-weight="normal" fill="#000">**</text>
<text transform="translate(948.394 576.400) scale(1.2129 1.1600)" font-size="22" font-weight="normal" fill="#000">*</text>
</svg>
</body></html>
